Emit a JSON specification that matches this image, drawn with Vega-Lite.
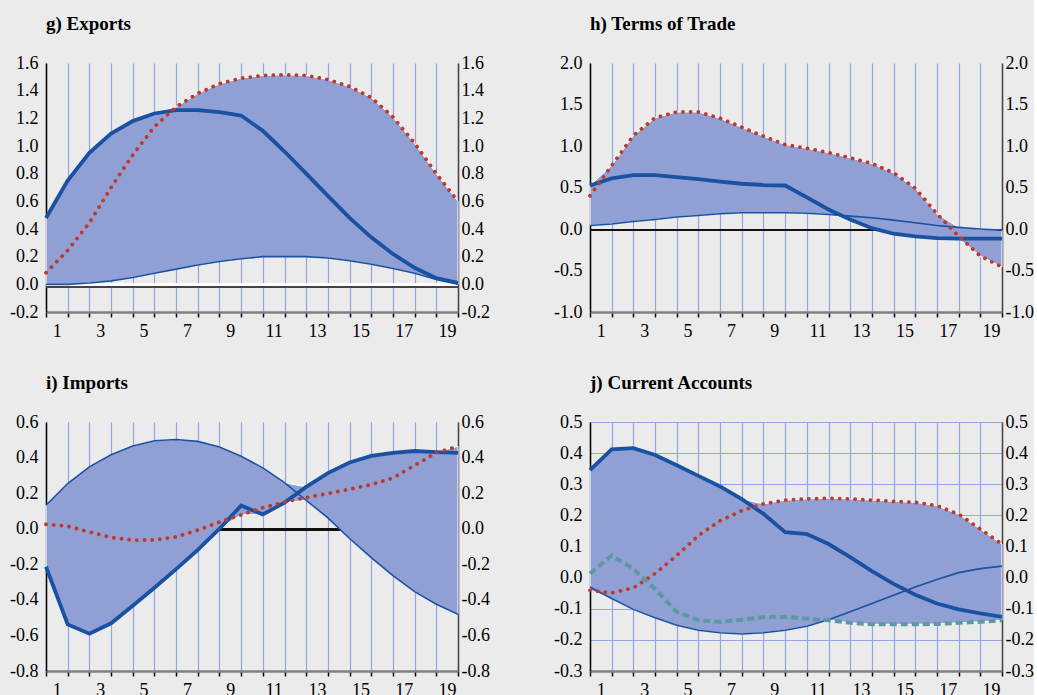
{
  "$schema": "https://vega.github.io/schema/vega-lite/v6.json",
  "background": "#ebebeb",
  "padding": {"left": 9, "top": 15, "right": 0, "bottom": 0},
  "datasets": {
    "g": [
      {"x": 1, "thick": 0.48, "thin": 0.0, "dot": 0.084},
      {"x": 2, "thick": 0.75, "thin": 0.0, "dot": 0.245},
      {"x": 3, "thick": 0.95, "thin": 0.01, "dot": 0.445},
      {"x": 4, "thick": 1.09, "thin": 0.025, "dot": 0.70},
      {"x": 5, "thick": 1.18, "thin": 0.05, "dot": 0.935},
      {"x": 6, "thick": 1.235, "thin": 0.08, "dot": 1.14},
      {"x": 7, "thick": 1.26, "thin": 0.11, "dot": 1.283},
      {"x": 8, "thick": 1.26, "thin": 0.14, "dot": 1.38},
      {"x": 9, "thick": 1.245, "thin": 0.165, "dot": 1.45},
      {"x": 10, "thick": 1.22, "thin": 0.185, "dot": 1.49},
      {"x": 11, "thick": 1.11, "thin": 0.2, "dot": 1.51},
      {"x": 12, "thick": 0.96, "thin": 0.2, "dot": 1.515},
      {"x": 13, "thick": 0.80, "thin": 0.2, "dot": 1.51},
      {"x": 14, "thick": 0.64, "thin": 0.19, "dot": 1.48},
      {"x": 15, "thick": 0.48, "thin": 0.17, "dot": 1.43},
      {"x": 16, "thick": 0.34, "thin": 0.145, "dot": 1.35},
      {"x": 17, "thick": 0.22, "thin": 0.115, "dot": 1.21},
      {"x": 18, "thick": 0.12, "thin": 0.08, "dot": 1.02},
      {"x": 19, "thick": 0.045, "thin": 0.035, "dot": 0.80},
      {"x": 20, "thick": 0.01, "thin": 0.0, "dot": 0.60}
    ],
    "h": [
      {"x": 1, "thick": 0.524, "thin": 0.043, "dot": 0.40},
      {"x": 2, "thick": 0.61, "thin": 0.06, "dot": 0.765},
      {"x": 3, "thick": 0.65, "thin": 0.09, "dot": 1.126},
      {"x": 4, "thick": 0.65, "thin": 0.115, "dot": 1.34},
      {"x": 5, "thick": 0.625, "thin": 0.145, "dot": 1.41},
      {"x": 6, "thick": 0.60, "thin": 0.163, "dot": 1.41},
      {"x": 7, "thick": 0.57, "thin": 0.183, "dot": 1.334},
      {"x": 8, "thick": 0.545, "thin": 0.195, "dot": 1.226},
      {"x": 9, "thick": 0.53, "thin": 0.195, "dot": 1.118},
      {"x": 10, "thick": 0.524, "thin": 0.195, "dot": 1.017},
      {"x": 11, "thick": 0.38, "thin": 0.19, "dot": 0.973},
      {"x": 12, "thick": 0.235, "thin": 0.175, "dot": 0.92},
      {"x": 13, "thick": 0.115, "thin": 0.155, "dot": 0.857},
      {"x": 14, "thick": 0.01, "thin": 0.135, "dot": 0.789},
      {"x": 15, "thick": -0.057, "thin": 0.107, "dot": 0.677},
      {"x": 16, "thick": -0.09, "thin": 0.075, "dot": 0.492},
      {"x": 17, "thick": -0.11, "thin": 0.043, "dot": 0.183},
      {"x": 18, "thick": -0.117, "thin": 0.02, "dot": -0.085},
      {"x": 19, "thick": -0.117, "thin": 0.0, "dot": -0.326},
      {"x": 20, "thick": -0.117, "thin": -0.017, "dot": -0.458}
    ],
    "i": [
      {"x": 1, "thick": -0.214, "thin": 0.132, "dot": 0.025},
      {"x": 2, "thick": -0.538, "thin": 0.254, "dot": 0.014},
      {"x": 3, "thick": -0.59, "thin": 0.348, "dot": -0.018},
      {"x": 4, "thick": -0.532, "thin": 0.416, "dot": -0.049},
      {"x": 5, "thick": -0.433, "thin": 0.465, "dot": -0.064},
      {"x": 6, "thick": -0.332, "thin": 0.495, "dot": -0.063},
      {"x": 7, "thick": -0.227, "thin": 0.502, "dot": -0.046},
      {"x": 8, "thick": -0.119, "thin": 0.491, "dot": -0.008},
      {"x": 9, "thick": 0.0, "thin": 0.459, "dot": 0.038},
      {"x": 10, "thick": 0.13, "thin": 0.407, "dot": 0.078},
      {"x": 11, "thick": 0.08, "thin": 0.342, "dot": 0.118},
      {"x": 12, "thick": 0.147, "thin": 0.259, "dot": 0.15},
      {"x": 13, "thick": 0.235, "thin": 0.16, "dot": 0.175},
      {"x": 14, "thick": 0.313, "thin": 0.061, "dot": 0.198},
      {"x": 15, "thick": 0.372, "thin": -0.055, "dot": 0.222},
      {"x": 16, "thick": 0.409, "thin": -0.163, "dot": 0.248},
      {"x": 17, "thick": 0.426, "thin": -0.264, "dot": 0.285},
      {"x": 18, "thick": 0.437, "thin": -0.354, "dot": 0.356},
      {"x": 19, "thick": 0.431, "thin": -0.425, "dot": 0.427},
      {"x": 20, "thick": 0.426, "thin": -0.481, "dot": 0.463}
    ],
    "j": [
      {"x": 1, "thick": 0.345, "thin": -0.03, "dot": -0.041, "dash": 0.013},
      {"x": 2, "thick": 0.412, "thin": -0.067, "dot": -0.049, "dash": 0.071},
      {"x": 3, "thick": 0.416, "thin": -0.102, "dot": -0.033, "dash": 0.028},
      {"x": 4, "thick": 0.394, "thin": -0.129, "dot": 0.013, "dash": -0.036},
      {"x": 5, "thick": 0.361, "thin": -0.153, "dot": 0.071, "dash": -0.11},
      {"x": 6, "thick": 0.327, "thin": -0.169, "dot": 0.135, "dash": -0.137},
      {"x": 7, "thick": 0.293, "thin": -0.177, "dot": 0.183, "dash": -0.142},
      {"x": 8, "thick": 0.252, "thin": -0.181, "dot": 0.215, "dash": -0.135},
      {"x": 9, "thick": 0.205, "thin": -0.177, "dot": 0.237, "dash": -0.127},
      {"x": 10, "thick": 0.146, "thin": -0.169, "dot": 0.249, "dash": -0.126},
      {"x": 11, "thick": 0.14, "thin": -0.156, "dot": 0.253, "dash": -0.132},
      {"x": 12, "thick": 0.108, "thin": -0.135, "dot": 0.255, "dash": -0.137},
      {"x": 13, "thick": 0.066, "thin": -0.11, "dot": 0.253, "dash": -0.145},
      {"x": 14, "thick": 0.021, "thin": -0.083, "dot": 0.249, "dash": -0.15},
      {"x": 15, "thick": -0.02, "thin": -0.057, "dot": 0.245, "dash": -0.15},
      {"x": 16, "thick": -0.055, "thin": -0.03, "dot": 0.242, "dash": -0.15},
      {"x": 17, "thick": -0.083, "thin": -0.006, "dot": 0.231, "dash": -0.149},
      {"x": 18, "thick": -0.102, "thin": 0.016, "dot": 0.204, "dash": -0.145},
      {"x": 19, "thick": -0.115, "thin": 0.029, "dot": 0.156, "dash": -0.142},
      {"x": 20, "thick": -0.126, "thin": 0.037, "dot": 0.108, "dash": -0.137}
    ]
  },
  "concat": [
    {
      "width": 412, "height": 249,
      "title": {"text": "g) Exports"},
      "data": {"name": "g"},
      "resolve": {"axis": {"y": "independent"}},
      "encoding": {"x": {"field": "x", "type": "quantitative", "scale": {"domain": [1, 20], "nice": false, "zero": false}, "title": null, "axis": {"values": [1, 2, 3, 4, 5, 6, 7, 8, 9, 10, 11, 12, 13, 14, 15, 16, 17, 18, 19, 20]}}},
      "layer": [
        {"mark": {"type": "rule", "color": "#ffffff", "strokeWidth": 2.5}, "encoding": {"x": {"datum": 1, "type": "quantitative"}, "x2": {"datum": 20}, "y": {"datum": 0, "type": "quantitative", "scale": {"domain": [-0.2, 1.6], "nice": false, "zero": false}, "axis": null}}},
        {"mark": {"type": "rule", "color": "#444444", "strokeWidth": 1, "yOffset": 2.5}, "encoding": {"x": {"datum": 1, "type": "quantitative"}, "x2": {"datum": 20}, "y": {"datum": 0, "type": "quantitative", "axis": null}}},
        {"transform": [{"fold": ["thick", "thin", "dot"], "as": ["k", "v"]}],
         "mark": {"type": "area", "color": "#909fd4", "stroke": "#ffffff", "strokeWidth": 1},
         "encoding": {
           "y": {"aggregate": "min", "field": "v", "type": "quantitative", "title": null, "scale": {"domain": [-0.2, 1.6], "nice": false, "zero": false}, "axis": {"values": [-0.2, 0, 0.2, 0.4, 0.6, 0.8, 1.0, 1.2, 1.4, 1.6]}},
           "y2": {"aggregate": "max", "field": "v"}}},
        {"mark": {"type": "line", "color": "#1a52a3", "strokeWidth": 1.6}, "encoding": {"y": {"field": "thin", "type": "quantitative", "axis": null}}},
        {"mark": {"type": "line", "color": "#1a52a3", "strokeWidth": 3.8}, "encoding": {"y": {"field": "thick", "type": "quantitative", "title": null, "axis": {"orient": "right", "values": [-0.2, 0, 0.2, 0.4, 0.6, 0.8, 1.0, 1.2, 1.4, 1.6]}}}},
        {"mark": {"type": "line", "color": "#c0392b", "strokeWidth": 3.8, "strokeDash": [0.1, 7.6], "strokeCap": "round"}, "encoding": {"y": {"field": "dot", "type": "quantitative", "axis": null}}}
      ]
    },
    {
      "width": 412, "height": 249,
      "title": {"text": "h) Terms of Trade"},
      "data": {"name": "h"},
      "resolve": {"axis": {"y": "independent"}},
      "encoding": {"x": {"field": "x", "type": "quantitative", "scale": {"domain": [1, 20], "nice": false, "zero": false}, "title": null, "axis": {"values": [1, 2, 3, 4, 5, 6, 7, 8, 9, 10, 11, 12, 13, 14, 15, 16, 17, 18, 19, 20]}}},
      "layer": [
        {"mark": {"type": "rule", "color": "#111111", "strokeWidth": 1.8, "yOffset": 1}, "encoding": {"x": {"datum": 1, "type": "quantitative"}, "x2": {"datum": 20}, "y": {"datum": 0, "type": "quantitative", "scale": {"domain": [-1, 2], "nice": false, "zero": false}, "axis": null}}},
        {"transform": [{"fold": ["thick", "thin", "dot"], "as": ["k", "v"]}],
         "mark": {"type": "area", "color": "#909fd4", "stroke": "#ffffff", "strokeWidth": 1},
         "encoding": {
           "y": {"aggregate": "min", "field": "v", "type": "quantitative", "title": null, "scale": {"domain": [-1, 2], "nice": false, "zero": false}, "axis": {"values": [-1, -0.5, 0, 0.5, 1, 1.5, 2]}},
           "y2": {"aggregate": "max", "field": "v"}}},
        {"mark": {"type": "line", "color": "#1a52a3", "strokeWidth": 1.6}, "encoding": {"y": {"field": "thin", "type": "quantitative", "axis": null}}},
        {"mark": {"type": "line", "color": "#1a52a3", "strokeWidth": 3.8}, "encoding": {"y": {"field": "thick", "type": "quantitative", "title": null, "axis": {"orient": "right", "values": [-1, -0.5, 0, 0.5, 1, 1.5, 2]}}}},
        {"mark": {"type": "line", "color": "#c0392b", "strokeWidth": 3.8, "strokeDash": [0.1, 7.6], "strokeCap": "round"}, "encoding": {"y": {"field": "dot", "type": "quantitative", "axis": null}}}
      ]
    },
    {
      "width": 412, "height": 249,
      "title": {"text": "i) Imports"},
      "data": {"name": "i"},
      "resolve": {"axis": {"y": "independent"}},
      "encoding": {"x": {"field": "x", "type": "quantitative", "scale": {"domain": [1, 20], "nice": false, "zero": false}, "title": null, "axis": {"values": [1, 2, 3, 4, 5, 6, 7, 8, 9, 10, 11, 12, 13, 14, 15, 16, 17, 18, 19, 20]}}},
      "layer": [
        {"mark": {"type": "rule", "color": "#111111", "strokeWidth": 1.8, "yOffset": 1}, "encoding": {"x": {"datum": 1, "type": "quantitative"}, "x2": {"datum": 20}, "y": {"datum": 0, "type": "quantitative", "scale": {"domain": [-0.8, 0.6], "nice": false, "zero": false}, "axis": null}}},
        {"transform": [{"fold": ["thick", "thin", "dot"], "as": ["k", "v"]}],
         "mark": {"type": "area", "color": "#909fd4", "stroke": "#ffffff", "strokeWidth": 1},
         "encoding": {
           "y": {"aggregate": "min", "field": "v", "type": "quantitative", "title": null, "scale": {"domain": [-0.8, 0.6], "nice": false, "zero": false}, "axis": {"values": [-0.8, -0.6, -0.4, -0.2, 0, 0.2, 0.4, 0.6]}},
           "y2": {"aggregate": "max", "field": "v"}}},
        {"mark": {"type": "line", "color": "#1a52a3", "strokeWidth": 1.6}, "encoding": {"y": {"field": "thin", "type": "quantitative", "axis": null}}},
        {"mark": {"type": "line", "color": "#1a52a3", "strokeWidth": 3.8}, "encoding": {"y": {"field": "thick", "type": "quantitative", "title": null, "axis": {"orient": "right", "values": [-0.8, -0.6, -0.4, -0.2, 0, 0.2, 0.4, 0.6]}}}},
        {"mark": {"type": "line", "color": "#c0392b", "strokeWidth": 3.8, "strokeDash": [0.1, 7.6], "strokeCap": "round"}, "encoding": {"y": {"field": "dot", "type": "quantitative", "axis": null}}}
      ]
    },
    {
      "width": 412, "height": 249,
      "title": {"text": "j) Current Accounts"},
      "data": {"name": "j"},
      "resolve": {"axis": {"y": "independent"}},
      "encoding": {"x": {"field": "x", "type": "quantitative", "scale": {"domain": [1, 20], "nice": false, "zero": false}, "title": null, "axis": {"values": [1, 2, 3, 4, 5, 6, 7, 8, 9, 10, 11, 12, 13, 14, 15, 16, 17, 18, 19, 20]}}},
      "layer": [
        {"transform": [{"fold": ["thick", "thin", "dot", "dash"], "as": ["k", "v"]}],
         "mark": {"type": "area", "color": "#909fd4", "stroke": "#ffffff", "strokeWidth": 1},
         "encoding": {
           "y": {"aggregate": "min", "field": "v", "type": "quantitative", "title": null, "scale": {"domain": [-0.3, 0.5], "nice": false, "zero": false}, "axis": {"values": [-0.3, -0.2, -0.1, 0, 0.1, 0.2, 0.3, 0.4, 0.5]}},
           "y2": {"aggregate": "max", "field": "v"}}},
        {"mark": {"type": "line", "color": "#1a52a3", "strokeWidth": 1.6}, "encoding": {"y": {"field": "thin", "type": "quantitative", "axis": null}}},
        {"mark": {"type": "line", "color": "#1a52a3", "strokeWidth": 3.8}, "encoding": {"y": {"field": "thick", "type": "quantitative", "title": null, "axis": {"orient": "right", "values": [-0.3, -0.2, -0.1, 0, 0.1, 0.2, 0.3, 0.4, 0.5]}}}},
        {"mark": {"type": "line", "color": "#c0392b", "strokeWidth": 3.8, "strokeDash": [0.1, 7.6], "strokeCap": "round"}, "encoding": {"y": {"field": "dot", "type": "quantitative", "axis": null}}},
        {"mark": {"type": "line", "color": "#5a9aa0", "strokeWidth": 4, "strokeDash": [7, 4]}, "encoding": {"y": {"field": "dash", "type": "quantitative", "axis": null}}}
      ]
    }
  ],
  "columns": 2,
  "spacing": {"row": 34, "column": 63},
  "config": {
    "view": {"stroke": null},
    "font": "Liberation Serif",
    "title": {"anchor": "start", "frame": "group", "font": "Liberation Serif", "fontSize": 19, "fontWeight": "bold", "color": "#000000", "offset": 20},
    "axisX": {
      "labelFont": "Liberation Serif", "labelFontSize": 18, "labelColor": "#000000", "labelOverlap": false, "labelFlush": false,
      "labelExpr": "datum.value % 2 == 1 && datum.value < 20 ? format(datum.value, 'd') : ''",
      "labelOffset": 10.8,
      "grid": true, "gridColor": "#96a5e1", "gridWidth": 1.2,
      "tickColor": "#000000", "tickSize": 5, "tickWidth": 1.5,
      "domainColor": "#808080", "domainWidth": 2.5,
      "labelPadding": 5
    },
    "axisY": {
      "labelFont": "Liberation Serif", "labelFontSize": 18, "labelColor": "#000000", "labelOverlap": false, "labelFlush": false,
      "grid": true, "gridColor": "#96a5e1", "gridWidth": 1.2,
      "ticks": false, "domainColor": "#000000", "domainWidth": 1.5,
      "labelPadding": 8,
      "labelExpr": "replace(format(datum.value, '.1f'), '\u2212', '-')"
    },
    "axisRight": {"grid": false, "domainColor": "#444444", "labelPadding": 3, "labelAlign": "left", "labelFont": "Liberation Serif", "labelFontSize": 18, "labelColor": "#000000"}
  }
}
